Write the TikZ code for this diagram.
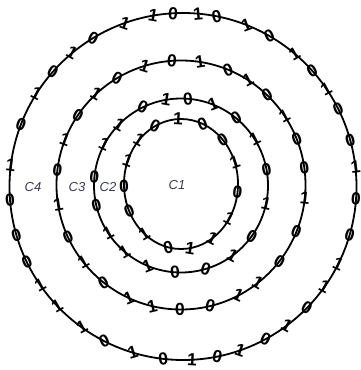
\documentclass[tikz,border=0pt]{standalone}
\usepackage{fontspec}
\setmainfont{Liberation Sans}
\definecolor{labgray}{RGB}{55,60,80}
\begin{document}
\begin{tikzpicture}[x=1pt,y=-1pt,
  ring/.style={line width=1.8pt,black},
  bit/.style={font=\fontsize{17.5}{18}\selectfont\bfseries,inner sep=0pt,text=black},
  lab/.style={font=\fontsize{13}{13}\selectfont\itshape,text=labgray,inner sep=0pt}]
\useasboundingbox (0,0) rectangle (361,370);
% rings
\coordinate (o4) at (183,186.5);
\coordinate (o3) at (181,185);
\coordinate (o2) at (181,185.5);
\coordinate (o1) at (181,184);
\draw[ring] (o4) circle[radius=173.5];
\draw[ring] (o3) circle[radius=124.5];
\draw[ring] (o2) circle[radius=87];
\draw[ring] (o1) ellipse[x radius=57,y radius=65];
\def\tilt{30}
% bits C4
\foreach \x/\y/\b [count=\i] in {198/13/1,217/15/0,247/23/1,270/35/0,295/53/1,313/70/0,327/88/1,340/108/0,352/140/0,358/167/1,357/199/0,350/235/0,340/265/1,325/287/1,307/308/0,288/327/1,265/338/0,240/350/1,217/355/0,192/358/1,163/360/0,133/352/1,105/340/0,82/327/1,58/305/1,40/285/1,28/262/0,17/235/0,10/200/0,10/165/1,22/125/0,35/93/1,53/72/0,72/53/1,93/38/0,125/23/1,153/14/1,173/12/0}{
  \pgfmathsetmacro\ang{atan2(\y-186.5,\x-183)}
  \pgfmathsetmacro\rot{-\tilt*sin(2*\ang)}
  \node[bit,rotate=\rot] (b4-\i) at ({183+173.5*cos(\ang)},{186.5+173.5*sin(\ang)}) {\b};
}
% bits C3
\foreach \x/\y/\b [count=\i] in {200/62/1,228/70/0,248/80/1,267/95/0,285/115/1,295/140/0,303/168/0,303/198/1,297/232/0,278/260/0,258/283/1,238/295/1,210/305/0,180/310/0,152/307/1,128/300/1,103/283/0,83/262/1,68/237/0,58/205/1,58/170/0,65/140/1,78/115/0,95/93/1,117/78/0,145/67/1,172/62/0}{
  \pgfmathsetmacro\ang{atan2(\y-185,\x-181)}
  \pgfmathsetmacro\rot{-\tilt*sin(2*\ang)}
  \node[bit,rotate=\rot] (b3-\i) at ({181+124.5*cos(\ang)},{185+124.5*sin(\ang)}) {\b};
}
% bits C2
\foreach \x/\y/\b [count=\i] in {188/98/0,214/102/1,237/117/0,257/138/1,267/170/0,267/204/1,253/237/0,232/255/1,206/270/0,175/273/0,147/267/1,123/253/1,105/235/1,95/206/0,93/177/0,102/143/1,117/122/1,141/104/0,166/98/1}{
  \pgfmathsetmacro\ang{atan2(\y-185.5,\x-181)}
  \pgfmathsetmacro\rot{-\tilt*sin(2*\ang)}
  \node[bit,rotate=\rot] (b2-\i) at ({181+87*cos(\ang)},{185.5+87*sin(\ang)}) {\b};
}
% bits C1
\foreach \x/\y/\b [count=\i] in {178/118/1,202/125/0,221/141/0,233/163/1,237/192/0,228/218/1,212/238/1,190/247/1,168/248/0,143/235/1,128/212/0,124/186/0,127/160/1,139/140/1,155/126/0}{
  \pgfmathsetmacro\ang{atan2((\y-184)/65,(\x-181)/57)}
  \pgfmathsetmacro\rot{-\tilt*sin(2*\ang)}
  \node[bit,rotate=\rot] (b1-\i) at ({181+57*cos(\ang)},{184+65*sin(\ang)}) {\b};
}
% labels
\node[lab] (l4) at (33,187) {C4};
\node[lab] (l3) at (77,187) {C3};
\node[lab] (l2) at (108,187) {C2};
\node[lab] (l1) at (177,185) {C1};
\end{tikzpicture}
\end{document}
